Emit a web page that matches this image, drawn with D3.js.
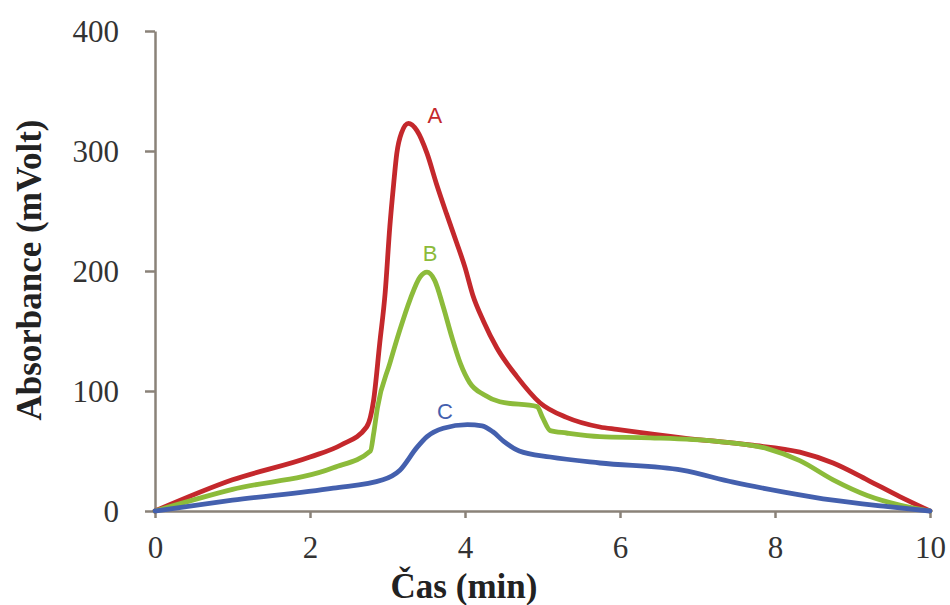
<!DOCTYPE html>
<html>
<head>
<meta charset="utf-8">
<script src="https://cdn.jsdelivr.net/npm/d3@7"></script>
<style>
  body { margin: 0; background: #fff; }
  .tick text { font-family: "Liberation Serif", "Times New Roman", serif; fill: #333; }
  .titulo { font-family: "Liberation Serif", "Times New Roman", serif; font-weight: bold; fill: #222; }
  .etiqueta { font-family: "Liberation Sans", Arial, sans-serif; font-size: 22px; }
</style>
</head>
<body>
<svg width="950" height="605"></svg>
<script>
const xTicks = [0, 2, 4, 6, 8, 10];
const yTicks = [0, 100, 200, 300, 400];

const tiempoA = [0, 1.0, 2.0, 2.4, 2.73, 2.82, 2.9, 2.97, 3.03, 3.08, 3.12, 3.18, 3.27, 3.38, 3.51, 3.63, 3.76, 3.89, 4.0, 4.1, 4.24, 4.41, 4.67, 4.97, 5.31, 5.74, 5.96, 6.8, 7.68, 8.32, 8.75, 9.19, 9.61, 10];
const valorA  = [0, 26, 45, 55, 70, 92, 140, 182, 237, 273, 298, 315, 323, 317, 298, 273, 248, 224, 203, 180, 158, 136, 112, 90, 78, 70, 68, 61, 55, 49, 40, 26, 12, 0];

const tiempoB = [0, 1.0, 2.3, 2.78, 2.82, 2.87, 3.03, 3.16, 3.29, 3.42, 3.51, 3.61, 3.72, 3.83, 3.94, 4.06, 4.24, 4.45, 4.93, 5.0, 5.1, 5.31, 5.74, 6.39, 7.25, 7.9, 8.32, 8.75, 9.19, 9.61, 10];
const valorB  = [0, 18, 36, 50, 64, 86, 123, 151, 176, 195, 199, 192, 170, 145, 123, 107, 97, 91, 87, 78, 67, 65, 62, 61, 58, 52, 42, 26, 13, 5, 0];

const tiempoC = [0, 1.0, 2.3, 2.94, 3.16, 3.38, 3.51, 3.72, 4.03, 4.22, 4.36, 4.5, 4.7, 5.1, 5.74, 6.8, 7.46, 8.1, 8.75, 9.4, 10];
const valorC  = [0, 9, 19, 26, 34, 53, 62, 69, 72, 71, 66, 58, 50, 45, 40, 34, 24, 16, 9, 4, 0];

const series = [
  { nombre: 'A', t: tiempoA, v: valorA, color: '#c4282c', lx: 3.61, ly: 323 },
  { nombre: 'B', t: tiempoB, v: valorB, color: '#8cbb3a', lx: 3.55, ly: 208 },
  { nombre: 'C', t: tiempoC, v: valorC, color: '#4460ae', lx: 3.74, ly: 77 }
];

const svg = d3.select('svg');
const margin = { top: 31, left: 155 };
const anchoInterno = 775;
const alturaInterna = 480;

const xScale = d3.scaleLinear().domain([0, 10]).range([0, anchoInterno]);
const yScale = d3.scaleLinear().domain([0, 400]).range([alturaInterna, 0]);

const grupo = svg.append('g')
  .attr('transform', `translate(${margin.left}, ${margin.top})`);

// ejes
const colorEje = '#8a8278';
const yEje = grupo.append('g')
  .call(d3.axisLeft(yScale).tickValues(yTicks).tickSize(10).tickPadding(26).tickSizeOuter(0));
const xEje = grupo.append('g')
  .attr('transform', `translate(0, ${alturaInterna})`)
  .call(d3.axisBottom(xScale).tickValues(xTicks).tickSize(7).tickPadding(18).tickSizeOuter(0));

[xEje, yEje].forEach(eje => {
  eje.select('.domain').attr('stroke', colorEje).attr('stroke-width', 2.5);
  eje.selectAll('.tick line').attr('stroke', colorEje).attr('stroke-width', 2.5);
  eje.selectAll('.tick text').style('font-size', '31px');
});
yEje.selectAll('.tick text').attr('dy', '0.34em');

// curvas
const linea = d3.line()
  .x(d => xScale(d[0]))
  .y(d => yScale(d[1]))
  .curve(d3.curveMonotoneX);

series.forEach(s => {
  const puntos = s.t.map((t, i) => [t, s.v[i]]);
  grupo.append('path')
    .datum(puntos)
    .attr('d', linea)
    .attr('fill', 'none')
    .attr('stroke', s.color)
    .attr('stroke-width', 4.8)
    .attr('stroke-linejoin', 'round')
    .attr('stroke-linecap', 'round');
  grupo.append('text')
    .attr('class', 'etiqueta')
    .attr('x', xScale(s.lx))
    .attr('y', yScale(s.ly))
    .attr('text-anchor', 'middle')
    .attr('fill', s.color)
    .text(s.nombre);
});

// titulos
svg.append('text')
  .attr('class', 'titulo')
  .attr('x', 464).attr('y', 598)
  .attr('text-anchor', 'middle')
  .style('font-size', '35px')
  .text('Čas (min)');

svg.append('text')
  .attr('class', 'titulo')
  .attr('transform', 'translate(41, 270) rotate(-90)')
  .attr('text-anchor', 'middle')
  .style('font-size', '35px')
  .text('Absorbance (mVolt)');
</script>
</body>
</html>
